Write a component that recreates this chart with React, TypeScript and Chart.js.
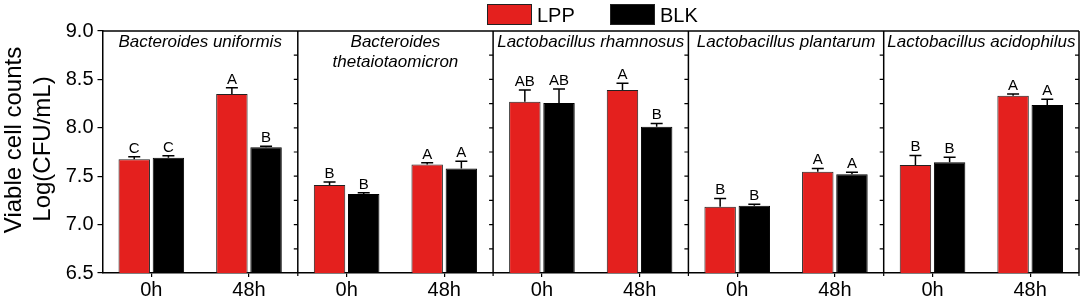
import React, { useEffect, useRef } from "react";
import { Chart, registerables } from "chart.js";

Chart.register(...registerables);

const categories = ["0h", "48h", "0h", "48h", "0h", "48h", "0h", "48h", "0h", "48h"];
const panelTitles = [
  ["Bacteroides uniformis"],
  ["Bacteroides", "thetaiotaomicron"],
  ["Lactobacillus rhamnosus"],
  ["Lactobacillus plantarum"],
  ["Lactobacillus acidophilus"],
];
const lppValues = [7.675, 8.35, 7.41, 7.62, 8.27, 8.39, 7.185, 7.545, 7.615, 8.33];
const lppErrors = [0.025, 0.065, 0.03, 0.02, 0.12, 0.07, 0.085, 0.035, 0.1, 0.02];
const lppLetters = ["C", "A", "B", "A", "AB", "A", "B", "A", "B", "A"];
const blkValues = [7.69, 7.8, 7.315, 7.58, 8.255, 8.01, 7.195, 7.52, 7.645, 8.235];
const blkErrors = [0.02, 0.01, 0.015, 0.075, 0.145, 0.035, 0.015, 0.02, 0.05, 0.06];
const blkLetters = ["C", "B", "B", "A", "AB", "B", "B", "A", "B", "A"];
const yMin = 6.5;
const yMax = 9.0;
const yStep = 0.25;
const seriesNames = ["LPP", "BLK"];
const seriesColors = ["rgb(228,32,30)", "rgb(0,0,0)"];

const FONT = "'Liberation Sans', Arial, Helvetica, sans-serif";

const overlayPlugin = {
  id: "overlay",
  afterDatasetsDraw(chart: any) {
    const ctx = chart.ctx;
    const area = chart.chartArea;
    const xs = chart.scales.x;
    const ys = chart.scales.y;
    const errs = [lppErrors, blkErrors];
    const letters = [lppLetters, blkLetters];
    ctx.save();
    // error bars + letters
    chart.data.datasets.forEach((ds: any, di: number) => {
      const meta = chart.getDatasetMeta(di);
      meta.data.forEach((bar: any, i: number) => {
        const v = ds.data[i];
        const top = ys.getPixelForValue(v + errs[di][i]);
        const yb = ys.getPixelForValue(v);
        ctx.strokeStyle = "#000";
        ctx.lineWidth = 1.5;
        ctx.beginPath();
        ctx.moveTo(bar.x, yb);
        ctx.lineTo(bar.x, top);
        ctx.moveTo(bar.x - 6, top);
        ctx.lineTo(bar.x + 6, top);
        ctx.stroke();
        ctx.fillStyle = "#000";
        ctx.font = `15px ${FONT}`;
        ctx.textAlign = "center";
        ctx.textBaseline = "alphabetic";
        ctx.fillText(letters[di][i], bar.x, top - 4);
      });
    });
    // panel frame
    const nPanels = panelTitles.length;
    const bounds: number[] = [];
    for (let p = 0; p <= nPanels; p++) {
      if (p === 0) bounds.push(area.left);
      else if (p === nPanels) bounds.push(area.right);
      else bounds.push((xs.getPixelForValue(2 * p - 1) + xs.getPixelForValue(2 * p)) / 2);
    }
    ctx.strokeStyle = "#000";
    ctx.lineWidth = 1.5;
    ctx.beginPath();
    ctx.moveTo(area.left, area.top);
    ctx.lineTo(area.right, area.top);
    ctx.stroke();
    for (let p = 1; p <= nPanels; p++) {
      const bx = bounds[p];
      ctx.beginPath();
      ctx.moveTo(bx, area.top);
      ctx.lineTo(bx, area.bottom);
      ctx.stroke();
      // inward ticks on the right side
      ctx.lineWidth = 1.2;
      ctx.beginPath();
      for (let v = yMin + yStep; v < yMax - 1e-6; v += yStep) {
        const y = ys.getPixelForValue(v);
        ctx.moveTo(bx - 4, y);
        ctx.lineTo(bx, y);
      }
      ctx.stroke();
      // small bottom tick
      ctx.beginPath();
      ctx.moveTo(bx, area.bottom);
      ctx.lineTo(bx, area.bottom + 3);
      ctx.stroke();
      ctx.lineWidth = 1.5;
    }
    // titles
    ctx.fillStyle = "#000";
    ctx.font = `italic 17px ${FONT}`;
    ctx.textAlign = "center";
    ctx.textBaseline = "alphabetic";
    panelTitles.forEach((lines, p) => {
      const cx = (bounds[p] + bounds[p + 1]) / 2;
      lines.forEach((t, li) => {
        ctx.fillText(t, cx, area.top + 16 + li * 20);
      });
    });
    // legend
    const legendX = [487, 610];
    ctx.font = `20px ${FONT}`;
    ctx.textAlign = "left";
    seriesNames.forEach((name, i) => {
      ctx.fillStyle = seriesColors[i];
      ctx.fillRect(legendX[i], 4, 45, 21);
      ctx.strokeStyle = "#222";
      ctx.lineWidth = 1;
      ctx.strokeRect(legendX[i] + 0.5, 4.5, 44, 20);
      ctx.fillStyle = "#000";
      ctx.fillText(name, legendX[i] + 50, 22);
    });
    // y title
    ctx.save();
    ctx.font = `24px ${FONT}`;
    ctx.textAlign = "center";
    ctx.textBaseline = "middle";
    ctx.translate(14, 140);
    ctx.rotate(-Math.PI / 2);
    ctx.fillText("Viable cell counts", 0, 0);
    ctx.restore();
    ctx.save();
    ctx.font = `24px ${FONT}`;
    ctx.textAlign = "center";
    ctx.textBaseline = "middle";
    ctx.translate(43, 149);
    ctx.rotate(-Math.PI / 2);
    ctx.fillText("Log(CFU/mL)", 0, 0);
    ctx.restore();
    ctx.restore();
  },
};

export default function App() {
  const ref = useRef<HTMLCanvasElement>(null);
  useEffect(() => {
    if (!ref.current) return;
    const chart = new Chart(ref.current, {
      type: "bar",
      data: {
        labels: categories,
        datasets: [
          {
            label: seriesNames[0],
            data: lppValues,
            backgroundColor: seriesColors[0],
            borderColor: "#222",
            borderWidth: 1,
            categoryPercentage: 0.7,
            barPercentage: 0.92,
          },
          {
            label: seriesNames[1],
            data: blkValues,
            backgroundColor: seriesColors[1],
            borderColor: "#000",
            borderWidth: 1,
            categoryPercentage: 0.7,
            barPercentage: 0.92,
          },
        ],
      },
      options: {
        responsive: false,
        animation: false,
        layout: { padding: { top: 31, right: 5, left: 0, bottom: 0 } },
        plugins: { legend: { display: false }, tooltip: { enabled: false } },
        scales: {
          x: {
            type: "category",
            grid: { display: true, drawOnChartArea: false, offset: false, tickLength: 4, color: "#000", lineWidth: 1.2 },
            border: { display: true, color: "#000", width: 1.5 },
            ticks: { color: "#000", font: { size: 20, family: FONT }, padding: 1, maxRotation: 0, autoSkip: false },
            afterFit: (s: any) => {
              s.height = 26;
            },
          },
          y: {
            min: yMin,
            max: yMax,
            grid: { display: true, drawOnChartArea: false, tickLength: 5, color: "#000", lineWidth: 1.2 },
            border: { display: true, color: "#000", width: 1.5 },
            ticks: {
              stepSize: yStep,
              color: "#000",
              font: { size: 20, family: FONT },
              padding: 4,
              callback: (v: any) => {
                const n = Number(v);
                return Math.abs(n * 2 - Math.round(n * 2)) < 1e-6 ? n.toFixed(1) : "";
              },
            },
            afterFit: (s: any) => {
              s.width = 102.5;
            },
          },
        },
      },
      plugins: [overlayPlugin],
    });
    return () => chart.destroy();
  }, []);
  return (
    <div style={{ position: "absolute", left: 0, top: 0, width: 1084, height: 299 }}>
      <canvas ref={ref} width={1084} height={299} style={{ display: "block" }} />
    </div>
  );
}
